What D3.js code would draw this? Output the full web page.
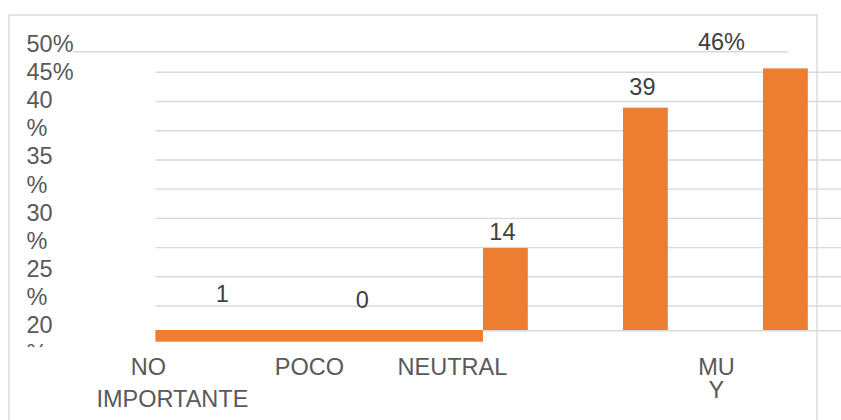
<!DOCTYPE html>
<html>
<head>
<meta charset="utf-8">
<script src="https://cdn.jsdelivr.net/npm/d3@7"></script>
<style>
  html, body { margin: 0; padding: 0; background: #fff; }
  svg { display: block; font-family: 'Liberation Sans', Arial, sans-serif; }
</style>
</head>
<body>
<div class="chart"></div>
<script>
// Data.
let categories = ['NO IMPORTANTE', 'POCO IMPORTANTE', 'NEUTRAL', 'IMPORTANTE', 'MUY IMPORTANTE'];
let values = [1, 0, 14, 39, 46];
let valueLabels = ['1', '0', '14', '39', '46%'];
let catLines = [['NO', 'IMPORTANTE'], ['POCO'], ['NEUTRAL'], [], ['MU', 'Y']];
let yTickLines = ['50%', '45%', '40', '%', '35', '%', '30', '%', '25', '%', '20', '%'];
let gridValues = [45, 40, 35, 30, 25, 20, 15, 10, 5];

// Build constants.
let width = 841,
    height = 420,
    baseline = 330,
    fontSize = 23.5,
    orange = '#ED7D31',
    grid = '#d9d9d9';

// Label nudges (layout only): [dx first line, dx other lines, line gap].
let labelNudge = [[0, -11], [0, -11], [0, 0], [0, -5], [-61, -10]];
let catNudge = [[-24, 0, 31.7], [-3, 0, 31.7], [0, 0, 31.7], [0, 0, 31.7], [-16, -16, 23]];

let svg = d3.select('.chart')
    .append('svg')
        .attr('width', width)
        .attr('height', height);

// Scales.
let x = d3.scaleBand()
    .domain(categories)
    .range([155.4, 855.4])
    .paddingInner(0.68)
    .paddingOuter(0.34);

let y = d3.scaleLinear()
    .domain([0, 46])
    .range([326.5, 68.4]);

let gridY = d3.scaleLinear()
    .domain([5, 45])
    .range([306, 72.3]);

let lineY = d3.scaleLinear()
    .domain([0, yTickLines.length - 1])
    .range([52, 52 + 28.1 * (yTickLines.length - 1)]);

// Outer border.
svg.append('path')
    .attr('d', `M9,${height + 2}V15H817V${height + 2}`)
    .attr('fill', 'none')
    .attr('stroke', grid)
    .attr('stroke-width', 1.4);

// Gridlines.
svg.append('line')
    .attr('x1', 73).attr('x2', 788)
    .attr('y1', 51.7).attr('y2', 51.7)
    .attr('stroke', grid).attr('stroke-width', 1.4);

svg.selectAll('.grid')
    .data(gridValues)
    .join('line')
        .attr('class', 'grid')
        .attr('x1', x.range()[0])
        .attr('x2', width)
        .attr('y1', d => gridY(d))
        .attr('y2', d => gridY(d))
        .attr('stroke', grid)
        .attr('stroke-width', 1.4);

svg.append('line')
    .attr('x1', x.range()[0]).attr('x2', width)
    .attr('y1', baseline + 0.7).attr('y2', baseline + 0.7)
    .attr('stroke', grid).attr('stroke-width', 1.4);

// Y labels (wrapped, clipped at the bottom).
svg.append('clipPath')
    .attr('id', 'yclip')
    .append('rect')
        .attr('x', 0).attr('y', 0)
        .attr('width', 150).attr('height', 347);

svg.append('g')
    .attr('clip-path', 'url(#yclip)')
    .selectAll('text')
    .data(yTickLines)
    .join('text')
        .attr('x', 26.5)
        .attr('y', (d, i) => lineY(i))
        .attr('font-size', fontSize)
        .attr('fill', '#595959')
        .text(d => d);

// Flat bar under the first two categories.
svg.append('rect')
    .attr('x', x.range()[0])
    .attr('y', baseline)
    .attr('width', x(categories[2]) - x.range()[0])
    .attr('height', 11.7)
    .attr('fill', orange);

// Bars.
svg.selectAll('.bar')
    .data(values.slice(2))
    .join('rect')
        .attr('class', 'bar')
        .attr('x', (d, i) => x(categories[i + 2]))
        .attr('y', d => y(d))
        .attr('width', x.bandwidth())
        .attr('height', d => baseline - y(d))
        .attr('fill', orange);

// Value labels.
svg.selectAll('.vlabel')
    .data(values)
    .join('text')
        .attr('class', 'vlabel')
        .attr('x', (d, i) => x(categories[i]) + x.bandwidth() / 2 - 3 + labelNudge[i][0])
        .attr('y', (d, i) => y(d) - 8 + labelNudge[i][1])
        .attr('text-anchor', 'middle')
        .attr('font-size', fontSize)
        .attr('fill', '#404040')
        .text((d, i) => valueLabels[i]);

// Category labels.
let cat = svg.selectAll('.cat')
    .data(categories)
    .join('text')
        .attr('class', 'cat')
        .attr('text-anchor', 'middle')
        .attr('font-size', fontSize)
        .attr('fill', '#595959');

cat.selectAll('tspan')
    .data((d, i) => catLines[i].map((t, j) => ({t, j, i})))
    .join('tspan')
        .attr('x', d => x(categories[d.i]) + x.bandwidth() / 2 - 53 + catNudge[d.i][d.j === 0 ? 0 : 1])
        .attr('y', d => 375 + d.j * catNudge[d.i][2])
        .text(d => d.t);
</script>
</body>
</html>
